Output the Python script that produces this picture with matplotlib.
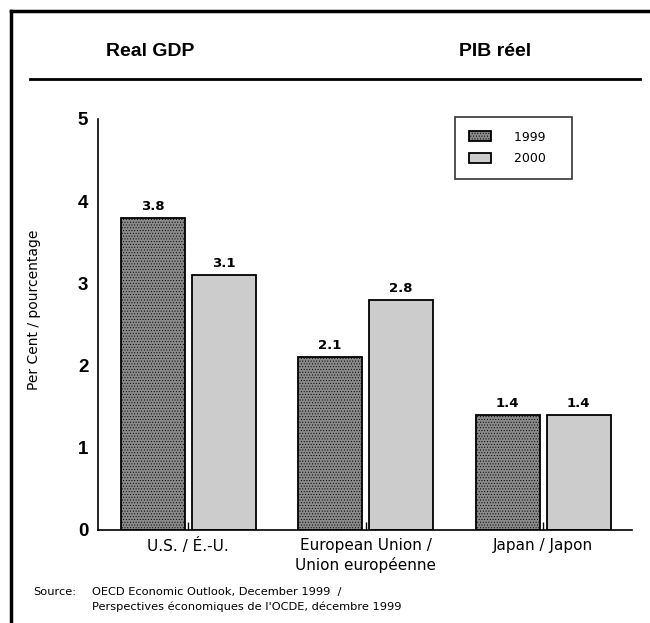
import matplotlib
matplotlib.use("Agg")
import matplotlib.pyplot as plt
from matplotlib.lines import Line2D
import numpy as np

plt.rcParams['font.family'] = ['DejaVu Sans']
plt.rcParams['hatch.color'] = "#6e6e6e"
plt.rcParams['hatch.linewidth'] = 0.4

# data
regions = ["U.S. / É.-U.", "European Union /\nUnion européenne", "Japan / Japon"]
years = ["1999", "2000"]
gdp_1999 = [3.8, 2.1, 1.4]
gdp_2000 = [3.1, 2.8, 1.4]
y_ticks = [0, 1, 2, 3, 4, 5]

fig = plt.figure(figsize=(6.5, 6.23), dpi=100)
ax = fig.add_axes([0.1508, 0.1493, 0.8215, 0.6597])

x = np.arange(len(regions))
w = 0.36
b1 = ax.bar(x - 0.2, gdp_1999, w, color="#8a8a8a", edgecolor="black", linewidth=1.3,
            hatch="......", label=years[0] + "   ")
b2 = ax.bar(x + 0.2, gdp_2000, w, color="#cccccc", edgecolor="black", linewidth=1.3,
            label=years[1] + "   ")

# value labels above the bars
for bars, vals in [(b1, gdp_1999), (b2, gdp_2000)]:
    for bar, v in zip(bars, vals):
        ax.text(bar.get_x() + bar.get_width() / 2, v + 0.06, f"{v:.1f}",
                ha="center", va="bottom", fontsize=9.5, fontweight="bold")

ax.set_xlim(-0.507, 2.5)
ax.set_ylim(0, 5)
ax.set_yticks(y_ticks)
ax.set_yticklabels([str(t) for t in y_ticks], fontsize=13.5, fontweight="bold",
                   family="Liberation Sans")
ax.tick_params(axis="y", length=0, pad=7)
ax.set_xticks(x)
ax.set_xticklabels(regions, fontsize=11, linespacing=1.3)
ax.tick_params(axis="x", direction="in", length=6, width=1, pad=6)
for s in ["top", "right"]:
    ax.spines[s].set_visible(False)
ax.spines["left"].set_linewidth(1.2)
ax.spines["bottom"].set_linewidth(1.2)
ax.set_ylabel("Per Cent / pourcentage", fontsize=10)
ax.yaxis.set_label_coords(-0.107, 0.535)

leg = ax.legend(loc="upper right", bbox_to_anchor=(0.8876, 1.005), frameon=True,
                fancybox=False, edgecolor="black", fontsize=9, handlelength=1.76,
                handleheight=0.88, handletextpad=1.9, borderpad=1.1, labelspacing=0.7,
                borderaxespad=0)
leg.get_frame().set_linewidth(1.2)

# titles and rule
fig.text(150 / 650, 1 - 52 / 623, "Real GDP", ha="center", va="center",
         fontsize=14, fontweight="bold", family="Liberation Sans")
fig.text(495 / 650, 1 - 52 / 623, "PIB réel", ha="center", va="center",
         fontsize=14, fontweight="bold", family="Liberation Sans")
fig.add_artist(Line2D([30 / 650, 640 / 650], [1 - 79 / 623] * 2, color="black", lw=2))

# outer frame (left and top edges only visible)
fig.add_artist(Line2D([11 / 650, 11 / 650], [0, 1 - 11 / 623], color="black", lw=2.5))
fig.add_artist(Line2D([11 / 650, 1], [1 - 11 / 623] * 2, color="black", lw=2.5))

# source note
fig.text(33 / 650, 1 - 592 / 623, "Source:", fontsize=8.2, va="center")
fig.text(92 / 650, 1 - 592 / 623, "OECD Economic Outlook, December 1999  /",
         fontsize=8.2, va="center")
fig.text(92 / 650, 1 - 607 / 623, "Perspectives économiques de l'OCDE, décembre 1999",
         fontsize=8.2, va="center")

fig.savefig("out.png", dpi=100)
